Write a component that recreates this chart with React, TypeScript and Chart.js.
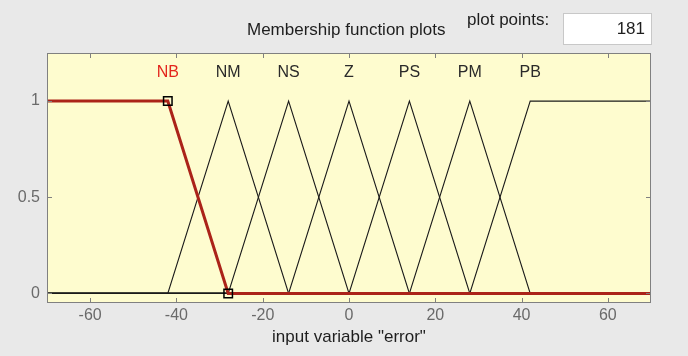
import React, { useEffect, useRef } from "react";
import { Chart, registerables } from "chart.js";

Chart.register(...registerables);

// Input variable range and membership functions
const xRange = [-70, 70];
const yRange = [-0.05, 1.25];
const mfNames = ["NB", "NM", "NS", "Z", "PS", "PM", "PB"];
const mfTypes = ["trapmf", "trimf", "trimf", "trimf", "trimf", "trimf", "trapmf"];
const mfParams = [
  [-70, -70, -42, -28],
  [-42, -28, -14],
  [-28, -14, 0],
  [-14, 0, 14],
  [0, 14, 28],
  [14, 28, 42],
  [28, 42, 70, 70],
];
const selectedMf = 0;
const xTicks = [-60, -40, -20, 0, 20, 40, 60];
const yTicks = [0, 0.5, 1];
const plotPoints = "181";
const xAxisTitle = 'input variable "error"';

const FONT = "'Liberation Sans', Arial, sans-serif";
const PLOT_BG = "#fefccf";
const FIG_BG = "#e9e9e9";
const SEL_RED = "#ab2319";

type Pt = { x: number; y: number };

function mfPoints(type: string, p: number[]): Pt[] {
  const [lo, hi] = xRange;
  const pts: Pt[] = [];
  if (type === "trimf") {
    const [a, b, c] = p;
    pts.push({ x: lo, y: 0 }, { x: a, y: 0 }, { x: b, y: 1 }, { x: c, y: 0 }, { x: hi, y: 0 });
  } else {
    const [a, b, c, d] = p;
    if (a > lo) pts.push({ x: lo, y: 0 });
    pts.push({ x: a, y: a === b ? 1 : 0 }, { x: b, y: 1 }, { x: c, y: 1 }, { x: d, y: c === d ? 1 : 0 });
    if (d < hi) pts.push({ x: hi, y: 0 });
  }
  return pts;
}

// x position of each MF label: first point where the function reaches 1
function labelX(type: string, p: number[]): number {
  return type === "trimf" ? p[1] : p[1] === p[0] ? p[2] : p[1];
}

const frame = {
  id: "frame",
  beforeDatasetsDraw(chart: any) {
    const { ctx, chartArea: a } = chart;
    ctx.save();
    ctx.fillStyle = PLOT_BG;
    ctx.fillRect(a.left, a.top, a.right - a.left, a.bottom - a.top);
    ctx.restore();
  },
  afterDatasetsDraw(chart: any) {
    const { ctx, chartArea: a, scales } = chart;
    ctx.save();
    // MF names above each peak
    ctx.font = `16px ${FONT}`;
    ctx.textAlign = "center";
    ctx.textBaseline = "middle";
    mfNames.forEach((name, i) => {
      const x = scales.x.getPixelForValue(labelX(mfTypes[i], mfParams[i]));
      const y = scales.y.getPixelForValue(1.15);
      ctx.fillStyle = i === selectedMf ? "#e3261d" : "#2a2a2a";
      ctx.fillText(name, x, y);
    });
    // axes box with inward ticks
    ctx.strokeStyle = "#808080";
    ctx.lineWidth = 1;
    ctx.strokeRect(a.left + 0.5, a.top + 0.5, a.right - a.left - 1, a.bottom - a.top - 1);
    ctx.beginPath();
    const tl = 5;
    xTicks.forEach((v) => {
      const x = Math.round(scales.x.getPixelForValue(v)) + 0.5;
      ctx.moveTo(x, a.bottom);
      ctx.lineTo(x, a.bottom - tl);
      ctx.moveTo(x, a.top);
      ctx.lineTo(x, a.top + tl);
    });
    yTicks.forEach((v) => {
      const y = Math.round(scales.y.getPixelForValue(v)) + 0.5;
      ctx.moveTo(a.left, y);
      ctx.lineTo(a.left + tl, y);
      ctx.moveTo(a.right, y);
      ctx.lineTo(a.right - tl, y);
    });
    ctx.stroke();
    ctx.restore();
  },
};

export default function App() {
  const ref = useRef<HTMLCanvasElement>(null);

  useEffect(() => {
    if (!ref.current) return;
    const datasets = mfNames.map((name, i) => {
      const sel = i === selectedMf;
      const pts = mfPoints(mfTypes[i], mfParams[i]);
      return {
        label: name,
        data: pts,
        borderColor: sel ? SEL_RED : "#1a1a1a",
        borderWidth: sel ? 3 : 1.1,
        tension: 0,
        fill: false,
        pointStyle: "rect" as const,
        pointRadius: pts.map((p) =>
          sel && p.x > xRange[0] && p.x < xRange[1] ? 6 : 0
        ),
        pointBackgroundColor: "rgba(0,0,0,0)",
        pointBorderColor: "#000",
        pointBorderWidth: 1.5,
      };
    });

    const chart = new Chart(ref.current, {
      type: "line",
      data: { datasets },
      plugins: [frame],
      options: {
        animation: false,
        responsive: false,
        events: [],
        layout: { padding: { top: 53, right: 37, left: 0, bottom: 0 } },
        plugins: { legend: { display: false }, tooltip: { enabled: false } },
        scales: {
          x: {
            type: "linear",
            min: xRange[0],
            max: xRange[1],
            afterBuildTicks: (s: any) => {
              s.ticks = xTicks.map((v) => ({ value: v }));
            },
            afterFit: (s: any) => {
              s.height = 53;
            },
            grid: { display: false, drawTicks: false },
            border: { display: false },
            ticks: {
              color: "#6a6a6a",
              font: { family: FONT, size: 16 },
              padding: 3,
              maxRotation: 0,
              callback: (v: any) => String(v),
            },
            title: {
              display: true,
              text: xAxisTitle,
              color: "#1e1e1e",
              font: { family: FONT, size: 17 },
              padding: { top: 0, bottom: 8 },
            },
          },
          y: {
            type: "linear",
            min: yRange[0],
            max: yRange[1],
            afterBuildTicks: (s: any) => {
              s.ticks = yTicks.map((v) => ({ value: v }));
            },
            afterFit: (s: any) => {
              s.width = 47;
            },
            grid: { display: false, drawTicks: false },
            border: { display: false },
            ticks: {
              color: "#6a6a6a",
              font: { family: FONT, size: 16 },
              padding: 7,
              callback: (v: any) => String(v),
            },
          },
        },
      },
    });
    return () => chart.destroy();
  }, []);

  return (
    <div
      style={{
        position: "fixed",
        left: 0,
        top: 0,
        width: 688,
        height: 356,
        background: FIG_BG,
        fontFamily: FONT,
        overflow: "hidden",
      }}
    >
      <canvas ref={ref} width={688} height={356} style={{ position: "absolute", left: 0, top: 0 }} />
      <div
        style={{
          position: "absolute",
          left: 247,
          top: 20,
          fontSize: 17,
          lineHeight: "20px",
          color: "#1e1e1e",
          whiteSpace: "nowrap",
        }}
      >
        Membership function plots
      </div>
      <div
        style={{
          position: "absolute",
          left: 467,
          top: 10,
          fontSize: 17,
          lineHeight: "20px",
          color: "#1e1e1e",
          whiteSpace: "nowrap",
        }}
      >
        plot points:
      </div>
      <div
        style={{
          position: "absolute",
          left: 563,
          top: 13,
          width: 89,
          height: 32,
          boxSizing: "border-box",
          background: "#ffffff",
          border: "1px solid #c8c8c8",
          textAlign: "right",
          paddingRight: 6,
          lineHeight: "30px",
          fontSize: 17,
          color: "#1e1e1e",
        }}
      >
        {plotPoints}
      </div>
    </div>
  );
}
